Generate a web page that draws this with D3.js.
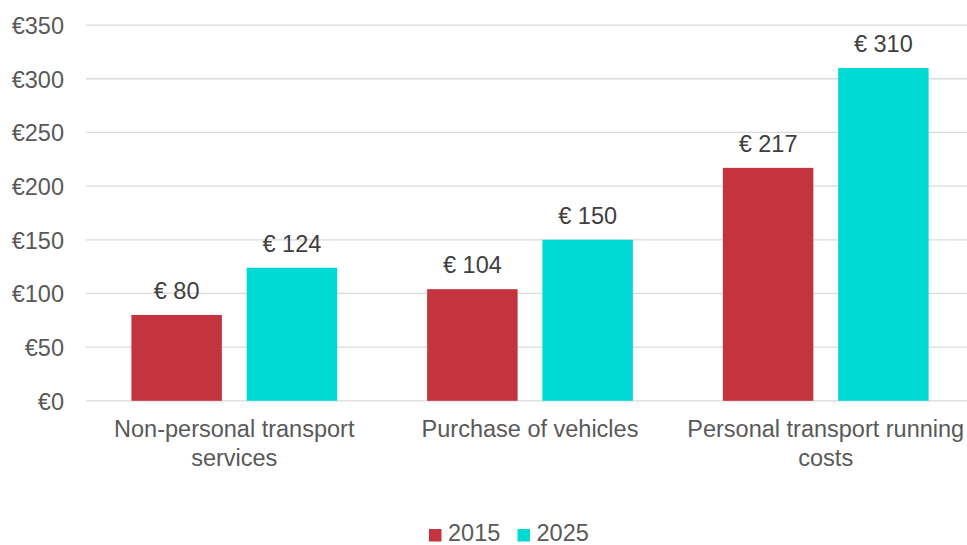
<!DOCTYPE html>
<html>
<head>
<meta charset="utf-8">
<script src="https://cdn.jsdelivr.net/npm/d3@7"></script>
<style>
  body { margin: 0; background: #fff; }
  svg text { font-family: Arial, "Liberation Sans", sans-serif; }
</style>
</head>
<body>
<script>
var categories = ["Non-personal transport services", "Purchase of vehicles", "Personal transport running costs"];
var seriesNames = ["2015", "2025"];
var values2015 = [80, 104, 217];
var values2025 = [124, 150, 310];
var yTicks = [0, 50, 100, 150, 200, 250, 300, 350];
var colors = ["#c3343f", "#00dad4"];

var W = 967, H = 545;
var svg = d3.select("body").append("svg")
  .attr("width", W)
  .attr("height", H);

var x = d3.scaleBand().domain(categories).range([86.4, 973.6]).paddingInner(0).paddingOuter(0);
var inner = d3.scaleBand().domain(seriesNames).range([45, 295.75 - 45]).paddingInner(0.215);
var y = d3.scaleLinear().domain([0, 350]).range([400.8, 25.1]);

// gridlines
svg.append("g").selectAll("line")
  .data(yTicks)
  .enter().append("line")
    .attr("x1", 86).attr("x2", W)
    .attr("y1", function(d){ return y(d); })
    .attr("y2", function(d){ return y(d); })
    .attr("stroke", "#d9d9d9")
    .attr("stroke-width", 1.3);

// y labels
var yAxis = d3.axisLeft(y).tickValues(yTicks).tickSize(0).tickPadding(0)
  .tickFormat(function(d){ return "€" + d; });
var ya = svg.append("g").attr("transform", "translate(64,0)").call(yAxis);
ya.select(".domain").remove();
ya.selectAll("text")
  .attr("fill", "#595959")
  .style("font-size", "23.5px")
  .attr("dy", "0.35em");

var rows = seriesNames.map(function(s, i){
  var vals = i === 0 ? values2015 : values2025;
  return vals.map(function(v, j){ return { cat: categories[j], series: s, value: v, color: colors[i] }; });
});
var flat = d3.merge(rows);

// bars
svg.append("g").selectAll("rect")
  .data(flat)
  .enter().append("rect")
    .attr("x", function(d){ return x(d.cat) + inner(d.series); })
    .attr("width", inner.bandwidth())
    .attr("y", function(d){ return y(d.value); })
    .attr("height", function(d){ return y(0) - y(d.value); })
    .attr("fill", function(d){ return d.color; });

// value labels
svg.append("g").selectAll("text")
  .data(flat)
  .enter().append("text")
    .attr("x", function(d){ return x(d.cat) + inner(d.series) + inner.bandwidth() / 2; })
    .attr("y", function(d){ return y(d.value) - 16; })
    .attr("text-anchor", "middle")
    .attr("fill", "#404040")
    .style("font-size", "23.5px")
    .text(function(d){ return "€ " + d.value; });

// category labels, wrapped to band width
var xl = svg.append("g").selectAll("text")
  .data(categories)
  .enter().append("text")
    .attr("text-anchor", "middle")
    .attr("fill", "#595959")
    .style("font-size", "23.5px")
    .attr("y", 437);

xl.each(function(d){
  var t = d3.select(this), cx = x(d) + x.bandwidth() / 2;
  var words = d.split(" "), line = [], lines = [];
  var probe = t.append("tspan");
  words.forEach(function(w){
    line.push(w);
    probe.text(line.join(" "));
    if (probe.node().getComputedTextLength() > x.bandwidth() - 6 && line.length > 1) {
      line.pop();
      lines.push(line.join(" "));
      line = [w];
    }
  });
  lines.push(line.join(" "));
  probe.remove();
  lines.forEach(function(l, i){
    t.append("tspan").attr("x", cx).attr("dy", i === 0 ? 0 : 28.5).text(l);
  });
});

// legend
var leg = svg.append("g").selectAll("g")
  .data(seriesNames)
  .enter().append("g")
    .attr("transform", function(d, i){ return "translate(" + (429 + i * 88.5) + ",529)"; });
leg.append("rect").attr("width", 12.5).attr("height", 12.5)
  .attr("fill", function(d, i){ return colors[i]; });
leg.append("text").attr("x", 19).attr("y", 12)
  .attr("fill", "#595959")
  .style("font-size", "23.5px")
  .text(function(d){ return d; });
</script>
</body>
</html>
